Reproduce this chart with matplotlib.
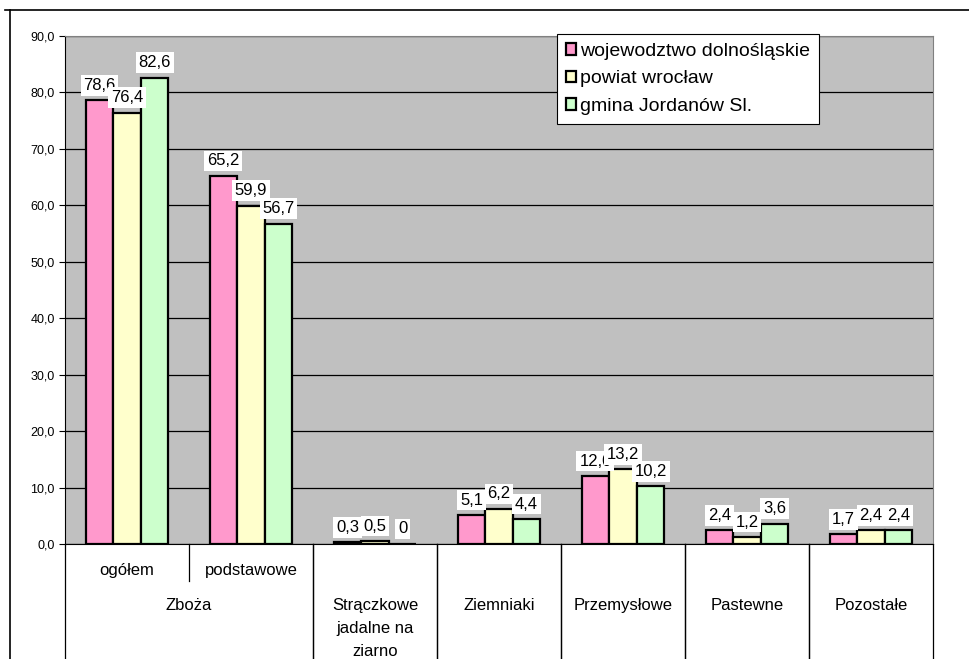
import numpy as np
import matplotlib.pyplot as plt
from matplotlib.lines import Line2D
import matplotlib.transforms as mtransforms

plt.rcParams['font.family'] = ['Liberation Sans', 'DejaVu Sans']

# dane
podgrupy = ['ogółem', 'podstawowe', '', '', '', '', '']
grupy = ['Zboża', 'Strączkowe\njadalne na\nziarno', 'Ziemniaki', 'Przemysłowe', 'Pastewne', 'Pozostałe']
grupy_zakres = [(0, 1), (2, 2), (3, 3), (4, 4), (5, 5), (6, 6)]
serie = ['wojewodztwo dolnośląskie', 'powiat wrocław', 'gmina Jordanów Sl.']
woj = [78.6, 65.2, 0.3, 5.1, 12.0, 2.4, 1.7]
powiat = [76.4, 59.9, 0.5, 6.2, 13.2, 1.2, 2.4]
gmina = [82.6, 56.7, 0.0, 4.4, 10.2, 3.6, 2.4]
etykiety = [
    ['78,6', '65,2', '0,3', '5,1', '12,0', '2,4', '1,7'],
    ['76,4', '59,9', '0,5', '6,2', '13,2', '1,2', '2,4'],
    ['82,6', '56,7', '0', '4,4', '10,2', '3,6', '2,4'],
]
kolory = ['#FF99CC', '#FFFFCC', '#CCFFCC']
yticks = [0, 10, 20, 30, 40, 50, 60, 70, 80, 90]

fig = plt.figure(figsize=(9.7, 6.59), dpi=100)
ax = fig.add_axes([65 / 970, 1 - 544 / 659, 868 / 970, 508 / 659])
ax.set_facecolor('#C0C0C0')

x = np.arange(len(woj))
w = 0.222
for i, (vals, kol, nazwa) in enumerate(zip([woj, powiat, gmina], kolory, serie)):
    ax.bar(x + (i - 1) * w, vals, w, color=kol, edgecolor='black', linewidth=1.6,
           label=nazwa, zorder=3)

for i, vals in enumerate([woj, powiat, gmina]):
    for j, v in enumerate(vals):
        ax.annotate(etykiety[i][j], (x[j] + (i - 1) * w, v), xytext=(0, 5.5),
                    textcoords='offset points', ha='center', va='bottom',
                    fontsize=12, zorder=5,
                    bbox=dict(facecolor='white', edgecolor='none', pad=2))

ax.set_xlim(-0.5, len(woj) - 0.5)
ax.set_ylim(0, 90)
ax.set_yticks(yticks)
ax.set_yticklabels([f'{t:.1f}'.replace('.', ',') for t in yticks], fontsize=9)
ax.yaxis.grid(True, color='black', linewidth=0.9, zorder=1)
ax.set_axisbelow(True)
ax.tick_params(axis='y', length=4, width=0.8)
ax.set_xticks([])
for s in ['top', 'right']:
    ax.spines[s].set_color('#808080')
ax.spines['left'].set_color('black')
ax.spines['bottom'].set_color('black')

# os kategorii (dwa poziomy)
tr = mtransforms.blended_transform_factory(ax.transData, ax.transAxes)
for j, p in enumerate(podgrupy):
    if p:
        ax.text(x[j], -0.052, p, transform=tr, ha='center', va='center', fontsize=12)
ax.add_line(Line2D([0.5, 0.5], [0, -0.073], transform=tr, color='black', lw=0.9, clip_on=False))
for (a, b), g in zip(grupy_zakres, grupy):
    ax.text((a + b) / 2, -0.107, g, transform=tr, ha='center', va='top', fontsize=12,
            linespacing=1.65)
    for xb in [a - 0.5, b + 0.5]:
        ax.add_line(Line2D([xb, xb], [0, -0.3], transform=tr, color='black', lw=0.9,
                           clip_on=False))

leg = ax.legend(loc='upper left', bbox_to_anchor=(557 / 970, 1 - 34 / 659),
                bbox_transform=fig.transFigure, fontsize=14, frameon=True, fancybox=False,
                framealpha=1, facecolor='white',
                handlelength=0.55, handleheight=0.55, handletextpad=0.2, borderpad=0.45,
                labelspacing=0.55, borderaxespad=0)
leg.get_frame().set_edgecolor('black')
leg.get_frame().set_linewidth(0.8)
leg.set_zorder(10)

# ramka wykresu
fig.add_artist(Line2D([5 / 970, 1], [1 - 10 / 659, 1 - 10 / 659], transform=fig.transFigure,
                      color='black', linewidth=1.2))
fig.add_artist(Line2D([10 / 970, 10 / 970], [0, 1 - 10 / 659], transform=fig.transFigure,
                      color='black', linewidth=1.2))

fig.savefig('out.png', dpi=100)
